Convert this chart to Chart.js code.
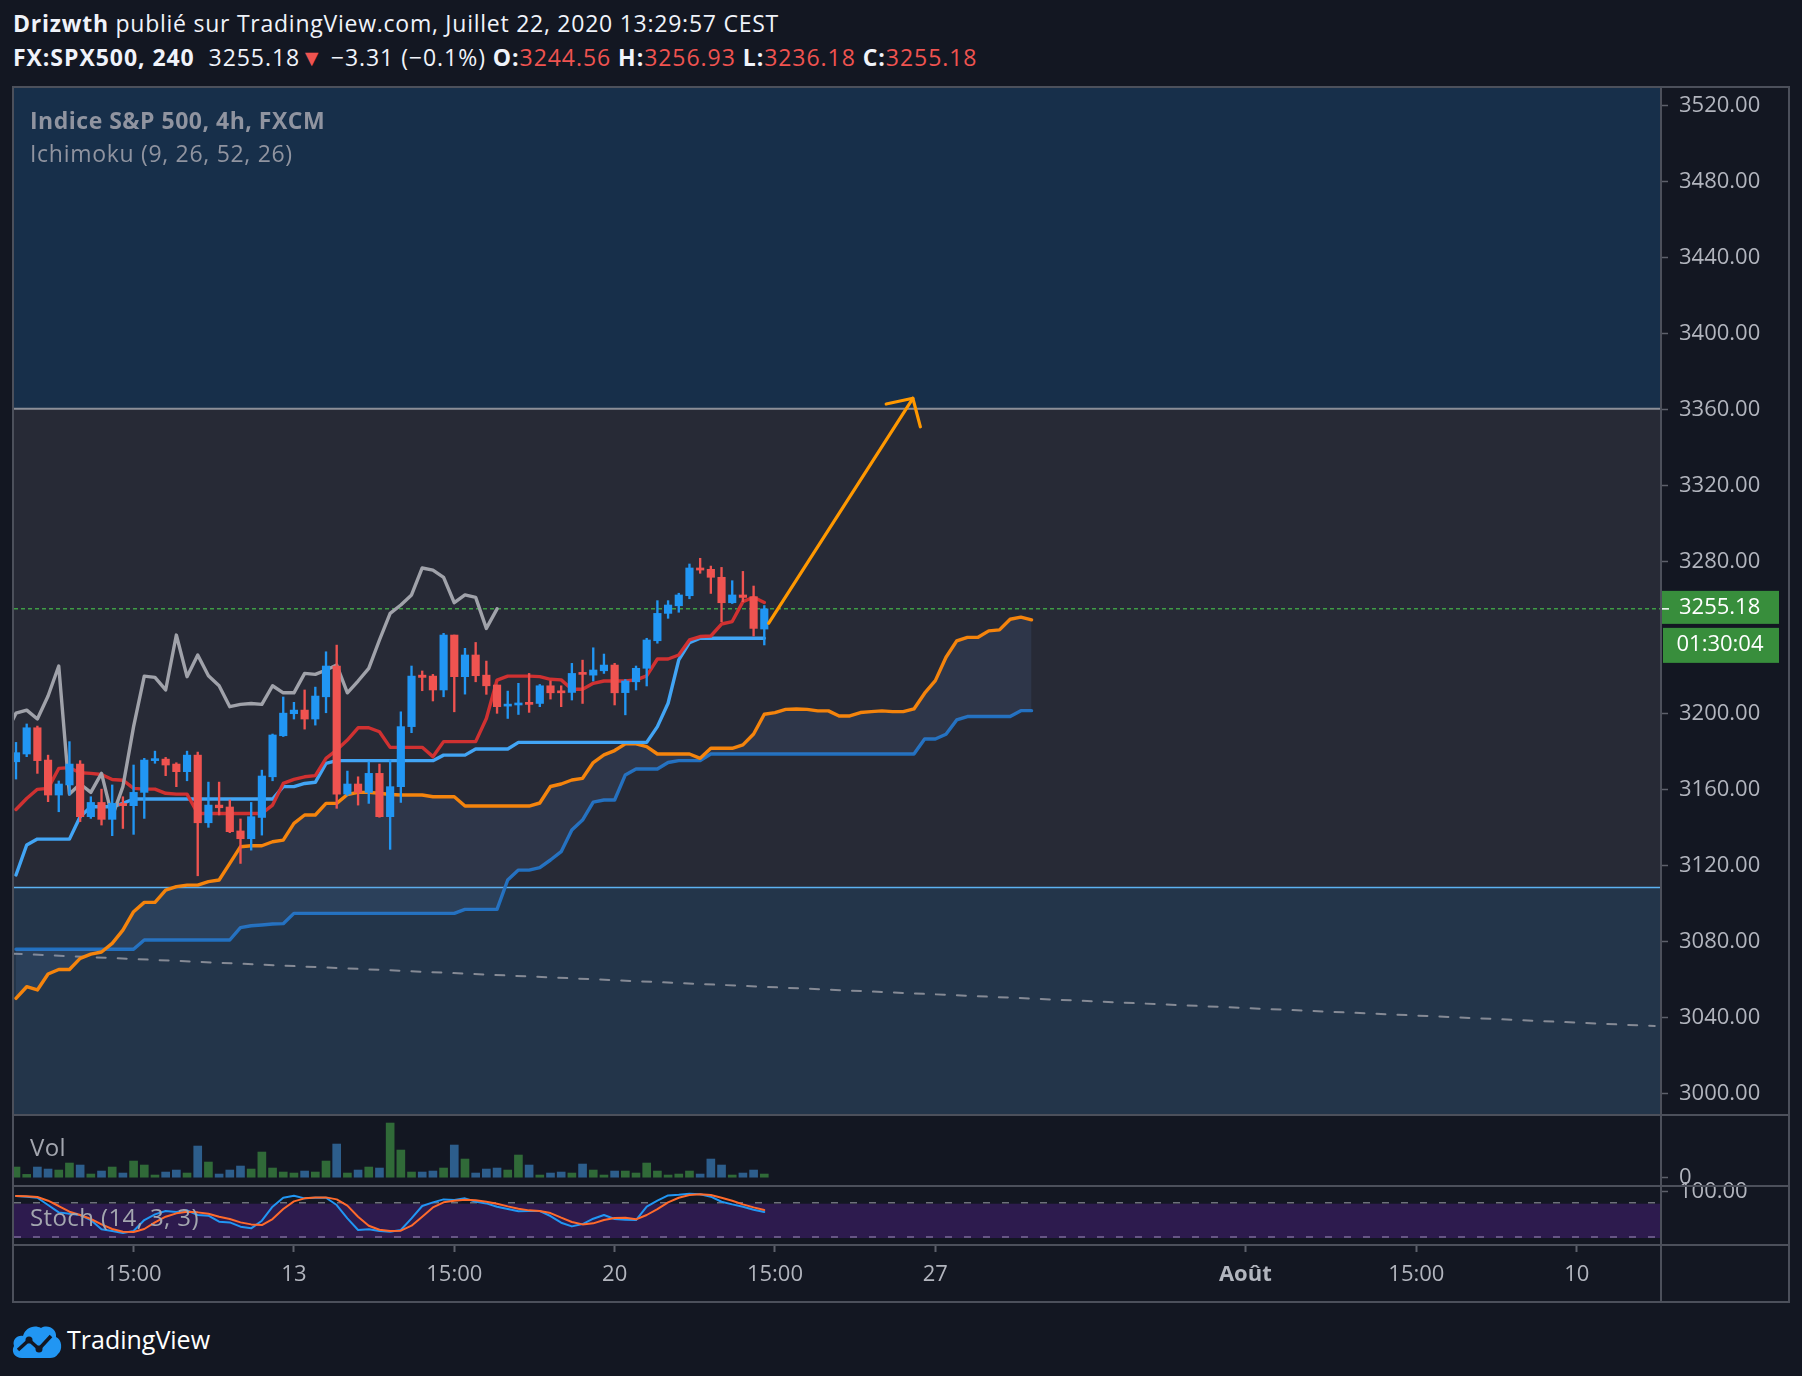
<!DOCTYPE html>
<html lang="fr">
<head>
<meta charset="utf-8">
<title>FX:SPX500, 240 – Ichimoku</title>
<script src="https://cdn.jsdelivr.net/npm/chart.js@4.4.1/dist/chart.umd.min.js"></script>
<style>
  html, body { margin: 0; padding: 0; background: #131722; }
  body { width: 1802px; height: 1376px; position: relative; overflow: hidden; font-family: 'Open Sans', sans-serif; }
  canvas { position: absolute; }
  .txt { position: absolute; white-space: nowrap; line-height: 30px; z-index: 3; }
  .ln  { position: absolute; background: #4c505b; z-index: 2; }
  .red { color: #ef5350; }
  #head1 { left: 13px; top: 8px; font-size: 23px; letter-spacing: 0.75px; color: #f0f3fa; }
  #head2 { left: 13px; top: 42px; font-size: 23px; letter-spacing: 0.95px; color: #f0f3fa; }
  #lg1 { left: 30px; top: 105px; font-size: 23px; letter-spacing: 0.5px; font-weight: bold; color: #9094a0; }
  #lg2 { left: 30px; top: 138px; font-size: 23px; letter-spacing: 0.7px; color: #9094a0; }
  #vol { left: 30px; top: 1132px; font-size: 24px; letter-spacing: 0.4px; color: #a3a6af; }
  #sto { left: 30px; top: 1202px; font-size: 24px; letter-spacing: 0.4px; color: #a3a6af; }
  #brand { left: 67px; top: 1324px; font-size: 25px; color: #ffffff; }
</style>
</head>
<body>

<canvas id="price" width="1774" height="1026" style="left:14px;top:88px"></canvas>
<canvas id="volume" width="1774" height="69" style="left:14px;top:1116px"></canvas>
<canvas id="stoch" width="1774" height="121" style="left:14px;top:1180px"></canvas>

<!-- frame -->
<div class="ln" style="left:12px;top:86px;width:1778px;height:2px"></div>
<div class="ln" style="left:12px;top:86px;width:2px;height:1217px"></div>
<div class="ln" style="left:1788px;top:86px;width:2px;height:1217px"></div>
<div class="ln" style="left:12px;top:1301px;width:1778px;height:2px"></div>
<div class="ln" style="left:1660px;top:86px;width:2px;height:1217px"></div>
<div class="ln" style="left:12px;top:1114px;width:1778px;height:2px"></div>
<div class="ln" style="left:12px;top:1185px;width:1778px;height:2px"></div>
<div class="ln" style="left:12px;top:1244px;width:1778px;height:2px"></div>

<div class="txt" id="head1"><b>Drizwth</b> publié sur TradingView.com, Juillet 22, 2020 13:29:57 CEST</div>
<div class="txt" id="head2"><b>FX:SPX500, 240</b>&nbsp; 3255.18<span class="red">▼</span> −3.31 (−0.1%) <b>O:</b><span class="red">3244.56</span> <b>H:</b><span class="red">3256.93</span> <b>L:</b><span class="red">3236.18</span> <b>C:</b><span class="red">3255.18</span></div>
<div class="txt" id="lg1">Indice S&amp;P 500, 4h, FXCM</div>
<div class="txt" id="lg2">Ichimoku (9, 26, 52, 26)</div>
<div class="txt" id="vol">Vol</div>
<div class="txt" id="sto">Stoch (14, 3, 3)</div>

<svg style="position:absolute;left:11px;top:1323px" width="52" height="36" viewBox="0 0 52 36">
  <path d="M11 35 C3 35 0 28 3 23 C1 17 6 12 12 13 C14 5 23 1 30 5 C37 1 46 6 45 14 C51 16 52 27 47 31 C45 34 42 35 39 35 Z" fill="#2196f3"/>
  <polyline points="7,27 18,17 28,26 40,13" fill="none" stroke="#131722" stroke-width="3.5" stroke-linejoin="round"/>
  <circle cx="18" cy="17" r="3.5" fill="#131722"/>
  <circle cx="28" cy="26" r="3.5" fill="#131722"/>
</svg>
<div class="txt" id="brand">TradingView</div>

<script>
'use strict';

/* ── Theme ── */
const C = {
  up:      '#2196f3',
  down:    '#ef5350',
  text:    '#b2b5be',
  tick:    '#5d606b',
  tenkan:  '#d03131',
  kijun:   '#42a5f5',
  chikou:  '#a0a2aa',
  spanA:   '#f5840c',
  spanB:   '#2170c0',
  cloud:   'rgba(100,140,200,0.13)',
  arrow:   '#ff9800',
  volUp:   '#306a38',
  volDown: '#2d5e8c',
  stochK:  '#2196f3',
  stochD:  '#ff6a2b',
  tag:     '#388e3c',
};
const FONT = "'Open Sans', sans-serif";
const LW = 3.4;   // Ichimoku line width

/* ── Candles (index 0 = first visible 4h bar) ── */
const candleOpen = [
  3174.7, 3178.8, 3192.6, 3175.6, 3157.2, 3162.5, 3173.5, 3145.8, 3153.3, 3144.4,
  3152.8, 3151.6, 3158.6, 3175.3, 3176.1, 3173.5, 3169.5, 3178.2, 3142.6, 3151.9,
  3150.9, 3138.3, 3134.2, 3145.4, 3166.8, 3188.4, 3200.0, 3201.9, 3197.2, 3208.9,
  3225.1, 3157.7, 3163.0, 3158.6, 3168.6, 3145.8, 3161.6, 3193.2, 3220.3, 3219.8,
  3212.5, 3241.4, 3219.5, 3230.9, 3220.3, 3215.1, 3204.0, 3204.6, 3206.0, 3205.4,
  3214.7, 3211.6, 3211.2, 3221.2, 3220.3, 3222.6, 3225.6, 3211.1, 3216.8, 3223.9,
  3238.4, 3252.8, 3256.8, 3262.1, 3276.7, 3276.0, 3271.8, 3258.4, 3262.5, 3261.6,
  3244.56,
];
const candleHigh = [
  3184.9, 3194.6, 3193.5, 3178.2, 3164.6, 3185.3, 3175.3, 3156.3, 3160.3, 3162.5,
  3156.3, 3173.0, 3176.5, 3180.3, 3177.0, 3174.2, 3180.3, 3179.8, 3164.0, 3164.0,
  3154.6, 3144.6, 3153.3, 3170.3, 3189.3, 3208.8, 3206.0, 3212.5, 3214.0, 3232.6,
  3236.1, 3169.8, 3166.8, 3174.7, 3173.5, 3175.6, 3201.0, 3225.1, 3222.5, 3220.7,
  3242.3, 3241.4, 3234.4, 3237.5, 3227.7, 3215.1, 3211.9, 3216.0, 3221.2, 3215.4,
  3217.2, 3214.7, 3226.5, 3228.2, 3234.7, 3231.4, 3226.5, 3218.0, 3225.1, 3239.7,
  3259.5, 3259.5, 3263.4, 3278.8, 3281.8, 3277.7, 3277.0, 3270.0, 3274.9, 3267.2,
  3256.93,
];
const candleLow = [
  3165.6, 3177.4, 3168.6, 3153.7, 3148.4, 3157.2, 3143.2, 3144.9, 3141.4, 3135.8,
  3139.6, 3136.5, 3144.9, 3173.9, 3167.4, 3161.6, 3164.7, 3114.7, 3140.2, 3146.7,
  3137.4, 3121.2, 3128.2, 3136.1, 3164.7, 3188.0, 3197.2, 3191.9, 3194.0, 3200.5,
  3150.2, 3157.0, 3151.9, 3152.8, 3145.5, 3128.6, 3153.3, 3190.0, 3212.1, 3206.7,
  3208.9, 3201.0, 3210.3, 3216.8, 3210.2, 3200.2, 3197.5, 3199.6, 3200.7, 3203.7,
  3207.7, 3203.7, 3207.2, 3205.4, 3217.2, 3221.2, 3204.6, 3199.4, 3212.5, 3214.6,
  3237.1, 3250.2, 3253.4, 3260.5, 3273.9, 3263.3, 3248.4, 3258.0, 3258.9, 3240.9,
  3236.18,
];
const candleClose = [
  3179.5, 3192.6, 3175.3, 3157.2, 3163.0, 3173.5, 3145.8, 3153.3, 3144.4, 3152.8,
  3151.6, 3158.6, 3175.6, 3176.1, 3173.0, 3169.5, 3178.2, 3142.6, 3151.9, 3150.5,
  3137.9, 3134.2, 3145.8, 3167.2, 3188.8, 3200.3, 3201.9, 3197.2, 3209.3, 3225.1,
  3157.7, 3163.0, 3158.6, 3168.6, 3145.8, 3161.6, 3193.2, 3219.8, 3219.1, 3212.5,
  3241.4, 3219.5, 3230.9, 3220.0, 3214.7, 3203.7, 3204.9, 3205.4, 3204.9, 3214.7,
  3211.0, 3211.0, 3221.2, 3220.7, 3223.0, 3225.6, 3211.0, 3217.2, 3223.9, 3238.8,
  3252.8, 3257.2, 3262.5, 3276.7, 3275.6, 3271.8, 3258.4, 3262.5, 3261.2, 3244.9,
  3255.18,
];

/* ── Ichimoku lines ── */
const tenkan = [
  3149.6, 3155.4, 3160.2, 3160.7, 3171.2, 3171.6, 3168.9, 3168.6, 3168.0, 3165.4,
  3165.0, 3160.7, 3160.3, 3160.3, 3158.1, 3157.7, 3157.7, 3147.5, 3147.5, 3147.5,
  3147.5, 3147.5, 3147.5, 3147.5, 3151.9, 3163.3, 3165.4, 3166.8, 3167.4, 3176.5,
  3180.9, 3186.1, 3192.6, 3192.6, 3190.5, 3182.3, 3182.3, 3182.3, 3182.3, 3177.4,
  3185.3, 3185.3, 3185.3, 3185.3, 3197.5, 3217.7, 3219.8, 3219.8, 3219.8, 3219.5,
  3218.1, 3217.8, 3212.9, 3212.9, 3216.0, 3217.2, 3217.2, 3217.2, 3217.8, 3219.9,
  3228.8, 3228.8, 3230.9, 3238.8, 3240.6, 3240.9, 3247.2, 3248.5, 3259.0, 3261.3,
  3258.5,
];
const kijun = [
  3115.1, 3130.9, 3134.0, 3134.0, 3134.0, 3134.0, 3145.8, 3151.0, 3151.0, 3151.0,
  3152.8, 3155.1, 3155.1, 3155.1, 3155.1, 3155.1, 3155.1, 3155.1, 3155.1, 3155.1,
  3155.1, 3155.1, 3155.1, 3155.1, 3155.1, 3161.6, 3161.6, 3163.3, 3163.9, 3173.9,
  3175.3, 3175.3, 3175.3, 3175.3, 3175.3, 3175.3, 3175.3, 3175.3, 3175.3, 3175.3,
  3178.2, 3178.2, 3178.2, 3181.4, 3181.4, 3181.4, 3181.4, 3184.9, 3184.9, 3184.9,
  3184.9, 3184.9, 3184.9, 3184.9, 3184.9, 3184.9, 3184.9, 3184.9, 3184.9, 3184.9,
  3193.2, 3205.5, 3228.3, 3237.4, 3239.7, 3239.7, 3239.7, 3239.7, 3239.7, 3239.7,
  3239.7,
];
const chikouStart = -1;
const chikou = [
  3188.8, 3200.3, 3201.9, 3197.2, 3209.3, 3225.1, 3157.7, 3163.0, 3158.6, 3168.6,
  3145.8, 3161.6, 3193.2, 3219.8, 3219.1, 3212.5, 3241.4, 3219.5, 3230.9, 3220.0,
  3214.7, 3203.7, 3204.9, 3205.4, 3204.9, 3214.7, 3211.0, 3211.0, 3221.2, 3220.7,
  3223.0, 3225.6, 3211.0, 3217.2, 3223.9, 3238.8, 3252.8, 3257.2, 3262.5, 3276.7,
  3275.6, 3271.8, 3258.4, 3262.5, 3261.2, 3244.9, 3255.18,
];
const senkouA = [
  3050.2, 3056.3, 3054.6, 3063.0, 3065.4, 3065.4, 3071.2, 3073.5, 3074.6, 3079.1,
  3086.1, 3095.8, 3100.7, 3100.7, 3107.2, 3109.0, 3109.8, 3109.8, 3111.6, 3112.5,
  3121.2, 3130.0, 3130.5, 3130.5, 3132.6, 3133.5, 3142.3, 3146.7, 3146.7, 3152.8,
  3152.8, 3157.5, 3158.6, 3158.6, 3158.1, 3157.5, 3157.2, 3157.2, 3157.2, 3156.3,
  3156.3, 3156.3, 3151.4, 3151.4, 3151.4, 3151.4, 3151.4, 3151.4, 3151.4, 3153.0,
  3161.7, 3163.0, 3165.1, 3166.0, 3174.3, 3178.3, 3180.6, 3184.1, 3184.1, 3182.7,
  3178.8, 3178.8, 3178.8, 3178.8, 3176.5, 3181.8, 3181.8, 3181.8, 3183.6, 3189.3,
  3199.7, 3200.6, 3202.3, 3202.5, 3202.3, 3201.5, 3201.5, 3198.8, 3198.8, 3200.6,
  3201.1, 3201.5, 3201.1, 3201.1, 3202.5, 3210.8, 3217.4, 3229.7, 3238.3, 3240.2,
  3240.2, 3243.6, 3244.1, 3249.7, 3250.8, 3249.4,
];
const senkouB = [
  3076.0, 3076.0, 3076.0, 3076.0, 3076.0, 3076.0, 3076.0, 3076.0, 3076.0, 3076.0,
  3076.0, 3076.0, 3080.9, 3080.9, 3080.9, 3080.9, 3080.9, 3080.9, 3080.9, 3080.9,
  3080.9, 3087.4, 3088.4, 3088.8, 3089.3, 3089.5, 3094.9, 3094.9, 3094.9, 3094.9,
  3094.9, 3094.9, 3094.9, 3094.9, 3094.9, 3094.9, 3094.9, 3094.9, 3094.9, 3094.9,
  3094.9, 3094.9, 3097.0, 3097.0, 3097.0, 3097.0, 3112.5, 3117.7, 3117.7, 3119.0,
  3123.0, 3127.4, 3138.8, 3144.0, 3153.5, 3154.6, 3154.6, 3167.8, 3170.9, 3170.9,
  3170.9, 3174.3, 3175.3, 3175.3, 3175.3, 3178.8, 3178.8, 3178.8, 3178.8, 3178.8,
  3178.8, 3178.8, 3178.8, 3178.8, 3178.8, 3178.8, 3178.8, 3178.8, 3178.8, 3178.8,
  3178.8, 3178.8, 3178.8, 3178.8, 3178.8, 3186.7, 3186.7, 3189.2, 3196.7, 3198.5,
  3198.5, 3198.5, 3198.5, 3198.5, 3201.6, 3201.6,
];

/* ── Volume (relative bar heights) ── */
const volume = [
  32, 10, 32, 26, 23, 44, 38, 11, 20, 32,
  14, 50, 38, 8, 17, 23, 14, 95, 47, 11,
  23, 35, 26, 77, 29, 17, 14, 20, 17, 50,
  101, 14, 23, 32, 29, 164, 83, 17, 17, 20,
  29, 98, 56, 14, 26, 29, 23, 68, 38, 8,
  14, 17, 14, 41, 23, 8, 20, 20, 14, 44,
  20, 8, 11, 20, 11, 56, 38, 8, 14, 23,
  11,
];

/* ── Stochastic (14, 3, 3) ── */
const stochK = [
  91.6, 90.5, 88.7, 75.9, 63.1, 60.8, 58.5, 49.7, 33.4, 30.5,
  27.0, 30.5, 49.7, 59.6, 65.4, 63.7, 66.6, 58.5, 57.3, 46.8,
  45.6, 38.1, 35.2, 48.5, 73.0, 88.7, 92.2, 87.6, 88.7, 88.7,
  75.9, 52.6, 32.2, 33.4, 30.5, 29.3, 32.2, 52.6, 74.2, 80.6,
  85.8, 84.7, 87.6, 81.7, 78.8, 73.0, 68.9, 64.9, 65.4, 65.4,
  56.7, 45.0, 38.6, 42.7, 52.0, 58.5, 51.5, 50.3, 49.7, 73.0,
  83.5, 92.8, 94.0, 95.7, 94.6, 90.5, 81.7, 77.1, 73.0, 67.8,
  63.7,
];
const stochD = [
  91.6, 91.1, 89.9, 83.5, 74.2, 64.3, 58.5, 51.5, 42.1, 34.0,
  29.3, 28.7, 34.0, 45.6, 55.5, 61.4, 64.3, 63.1, 60.8, 55.5,
  51.5, 45.6, 42.1, 41.0, 51.5, 68.9, 82.3, 87.6, 89.3, 89.3,
  85.8, 74.8, 55.5, 39.8, 32.8, 30.5, 31.1, 39.8, 55.5, 71.8,
  80.6, 83.5, 85.2, 84.1, 81.7, 78.3, 73.6, 69.5, 66.6, 65.4,
  61.9, 53.8, 46.2, 42.1, 43.9, 49.7, 53.2, 53.8, 50.9, 58.5,
  68.9, 80.6, 88.7, 93.4, 94.6, 93.4, 88.7, 83.5, 77.1, 71.8,
  67.2,
];
const stochBand = [20, 80];

/* ── Axes ── */
const priceTicks = [3520, 3480, 3440, 3400, 3360, 3320, 3280, 3200, 3160, 3120, 3080, 3040, 3000];
const timeTickIndex  = [11, 26, 41, 56, 71, 86, 115, 131, 146];
const timeTickLabels = ['15:00', '13', '15:00', '20', '15:00', '27', 'Août', '15:00', '10'];
const lastPrice = 3255.18;
const countdown = '01:30:04';

/* ── Drawings ── */
const upperZone = 3360.5;   // blue box above this level
const lowerZone = 3108.5;   // blue box below this level
const trendX = [-0.3, 153.3];
const trendY = [3073.7, 3035.6];
const arrowX = [70.4, 83.9];
const arrowY = [3247.6, 3366.0];
const arrowHeadX = [81.4, 83.9, 84.6];
const arrowHeadY = [3363.0, 3366.0, 3351.0];

/* ── Layout of the panes ── */
const X_MIN = -0.187, X_MAX = 153.79;
const AXIS_W = 128;

const pts   = (vals, start = 0) => vals.map((y, i) => ({ x: i + start, y }));
const pairs = (xs, ys) => xs.map((x, i) => ({ x, y: ys[i] }));
const isUp  = candleClose.map((c, i) => c >= candleOpen[i]);

function lineSet(label, data, color, width, extra = {}) {
  return Object.assign({
    type: 'line', label, data, borderColor: color, borderWidth: width,
    pointRadius: 0, tension: 0, fill: false, clip: 0,
    borderJoinStyle: 'round', borderCapStyle: 'round',
  }, extra);
}

/* pin a linear scale to an exact value range (no offset, no tick rounding) */
function pin(min, max, ticks) {
  return s => {
    s.min = min;
    s.max = max;
    if (ticks) s.ticks = ticks.map(v => ({ value: v }));
  };
}

function rightAxis(min, max, ticks, fmt) {
  return {
    type: 'linear', position: 'right', min, max, bounds: 'data', offset: false, beginAtZero: false,
    afterBuildTicks: pin(min, max, ticks),
    afterFit: s => { s.width = AXIS_W; s.paddingTop = 0; s.paddingBottom = 0; },
    grid: { drawOnChartArea: false, drawTicks: true, tickLength: 8, offset: false, color: C.tick, tickColor: C.tick, tickWidth: 1.5 },
    border: { display: false },
    ticks: { color: C.text, font: { family: FONT, size: 22 }, padding: 11, autoSkip: false, callback: fmt },
  };
}

const hiddenX = {
  type: 'linear', min: X_MIN, max: X_MAX, bounds: 'data', offset: false,
  grid: { offset: false }, display: false,
  afterBuildTicks: pin(X_MIN, X_MAX),
};
const baseOptions = {
  responsive: false,
  animation: false,
  devicePixelRatio: 1,
  events: [],
  layout: { autoPadding: false, padding: 0 },
  plugins: { legend: { display: false }, tooltip: { enabled: false } },
};

/* ============================================================
   PRICE PANE
   ============================================================ */
const zonesPlugin = {
  id: 'zones',
  beforeDatasetsDraw(chart) {
    const { ctx, chartArea: a, scales: { y } } = chart;
    const yTop = y.getPixelForValue(upperZone);
    const yBot = y.getPixelForValue(lowerZone);
    const yLast = y.getPixelForValue(lastPrice);
    ctx.save();
    ctx.fillStyle = '#272a36';
    ctx.fillRect(a.left, a.top, a.width, a.height);
    ctx.fillStyle = '#172f4a';
    ctx.fillRect(a.left, a.top, a.width, yTop - a.top);
    ctx.fillStyle = '#23354a';
    ctx.fillRect(a.left, yBot, a.width, a.bottom - yBot);

    ctx.lineWidth = 2;
    ctx.strokeStyle = '#8c8f98';
    ctx.beginPath(); ctx.moveTo(a.left, yTop); ctx.lineTo(a.right, yTop); ctx.stroke();
    ctx.lineWidth = 1.5;
    ctx.strokeStyle = '#5cb2f2';
    ctx.beginPath(); ctx.moveTo(a.left, yBot); ctx.lineTo(a.right, yBot); ctx.stroke();

    ctx.setLineDash([4, 3]);
    ctx.strokeStyle = '#3f9c45';
    ctx.beginPath(); ctx.moveTo(a.left, yLast); ctx.lineTo(a.right, yLast); ctx.stroke();
    ctx.restore();
  },
};

const priceTagPlugin = {
  id: 'priceTag',
  afterDraw(chart) {
    const { ctx, chartArea: a, scales: { y } } = chart;
    const py = y.getPixelForValue(lastPrice);
    const x0 = a.right + 1, w = 118;
    ctx.save();
    ctx.fillStyle = C.tag;
    ctx.fillRect(x0, py - 18, w, 33);
    ctx.fillRect(x0 + 2, py + 19, w - 2, 35);
    ctx.strokeStyle = '#ffffff';
    ctx.lineWidth = 1.5;
    ctx.beginPath(); ctx.moveTo(a.right, py); ctx.lineTo(a.right + 9, py); ctx.stroke();
    ctx.fillStyle = '#ffffff';
    ctx.font = `22px ${FONT}`;
    ctx.textBaseline = 'middle';
    ctx.textAlign = 'left';
    ctx.fillText(lastPrice.toFixed(2), a.right + 19, py - 1);
    ctx.textAlign = 'center';
    ctx.fillText(countdown, x0 + w / 2, py + 36);
    ctx.restore();
  },
};

new Chart(document.getElementById('price'), {
  type: 'line',
  data: {
    datasets: [
      lineSet('arrow', pairs(arrowX, arrowY), C.arrow, 3.2, { order: 0 }),
      lineSet('arrow head', pairs(arrowHeadX, arrowHeadY), C.arrow, 3.2, { order: 0 }),
      {
        type: 'bar', label: 'body', order: 1, grouped: false, clip: 0,
        data: candleOpen.map((o, i) => ({ x: i, y: [o, candleClose[i]] })),
        backgroundColor: isUp.map(u => (u ? C.up : C.down)),
        barThickness: 7.5, minBarLength: 2, borderWidth: 0,
      },
      {
        type: 'bar', label: 'wick', order: 2, grouped: false, clip: 0,
        data: candleLow.map((l, i) => ({ x: i, y: [l, candleHigh[i]] })),
        backgroundColor: isUp.map(u => (u ? C.up : C.down)),
        barThickness: 1.7, borderWidth: 0,
      },
      lineSet('Chikou', pts(chikou, chikouStart), C.chikou, LW, { order: 3 }),
      lineSet('Tenkan', pts(tenkan), C.tenkan, LW, { order: 4 }),
      lineSet('Kijun', pts(kijun), C.kijun, LW, { order: 5 }),
      lineSet('Senkou A', pts(senkouA), C.spanA, LW, { order: 6, fill: '+1', backgroundColor: C.cloud }),
      lineSet('Senkou B', pts(senkouB), C.spanB, LW, { order: 7 }),
      lineSet('trend', pairs(trendX, trendY), 'rgba(150,153,162,0.85)', 2, { order: 8, borderDash: [9, 12] }),
    ],
  },
  options: Object.assign({}, baseOptions, {
    scales: {
      x: hiddenX,
      y: rightAxis(2989.32, 3529.32, priceTicks, v => v.toFixed(2)),
    },
  }),
  plugins: [zonesPlugin, priceTagPlugin],
});

/* ============================================================
   VOLUME PANE
   ============================================================ */
new Chart(document.getElementById('volume'), {
  type: 'bar',
  data: {
    datasets: [{
      label: 'Vol',
      data: volume.map((v, i) => ({ x: i, y: v })),
      backgroundColor: isUp.map(u => (u ? C.volUp : C.volDown)),
      barThickness: 8, borderWidth: 0, grouped: false, clip: 0,
    }],
  },
  options: Object.assign({}, baseOptions, {
    scales: {
      x: hiddenX,
      y: rightAxis(-21.9, 185.1, [0], v => String(v)),
    },
  }),
});

/* ============================================================
   STOCHASTIC PANE + TIME AXIS
   ============================================================ */
const bandPlugin = {
  id: 'band',
  beforeDatasetsDraw(chart) {
    const { ctx, chartArea: a, scales: { y } } = chart;
    const yHi = y.getPixelForValue(stochBand[1]);
    const yLo = y.getPixelForValue(stochBand[0]);
    ctx.save();
    ctx.fillStyle = '#2d1b4e';
    ctx.fillRect(a.left, yHi + 1, a.width, yLo - yHi);
    ctx.setLineDash([7, 12]);
    ctx.lineWidth = 1.5;
    ctx.strokeStyle = '#6e717b';
    ctx.beginPath(); ctx.moveTo(a.left, yHi); ctx.lineTo(a.right, yHi); ctx.stroke();
    ctx.strokeStyle = '#7a6a98';
    ctx.beginPath(); ctx.moveTo(a.left, yLo); ctx.lineTo(a.right, yLo); ctx.stroke();
    ctx.restore();
  },
};

new Chart(document.getElementById('stoch'), {
  type: 'line',
  data: {
    datasets: [
      lineSet('%D', pts(stochD), C.stochD, 2),
      lineSet('%K', pts(stochK), C.stochK, 2),
    ],
  },
  options: Object.assign({}, baseOptions, {
    layout: { autoPadding: false, padding: { top: 7, left: 0, right: 0, bottom: 0 } },
    scales: {
      x: {
        type: 'linear', position: 'bottom', min: X_MIN, max: X_MAX, bounds: 'data', offset: false,
        afterBuildTicks: pin(X_MIN, X_MAX, timeTickIndex),
        afterFit: s => { s.height = 57; s.paddingLeft = 0; s.paddingRight = 0; },
        grid: { drawOnChartArea: false, drawTicks: true, tickLength: 8, offset: false, color: C.tick, tickColor: C.tick, tickWidth: 2 },
        border: { display: false },
        ticks: {
          color: C.text, padding: 10, maxRotation: 0, autoSkip: false,
          font: ctx => ({ family: FONT, size: 22, weight: timeTickLabels[ctx.index] === 'Août' ? 'bold' : 'normal' }),
          callback: (v, i) => timeTickLabels[i],
        },
      },
      y: rightAxis(7.8, 107.45, [100], v => v.toFixed(2)),
    },
  }),
  plugins: [bandPlugin],
});
</script>
</body>
</html>
